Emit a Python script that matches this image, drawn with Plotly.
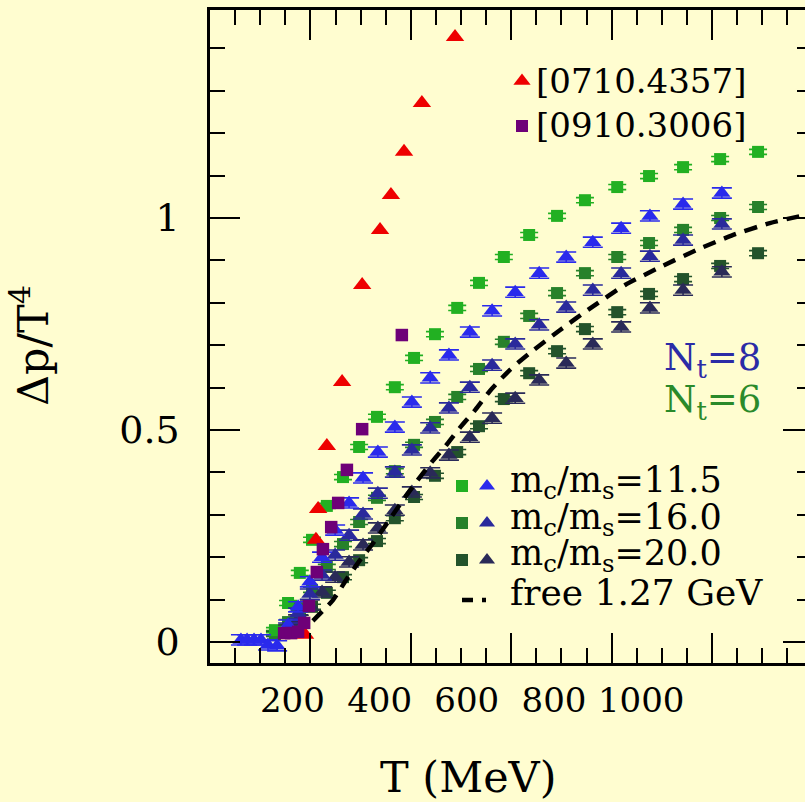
import plotly.graph_objects as go

BG = "#FFFDD0"
FONT = "DejaVu Serif"

# ---------------- data ----------------
# N_t = 6 (squares), three charm/strange mass ratios
T_nt6 = [160, 190, 217, 245, 279, 316, 353, 394, 435, 479, 527, 578, 628, 685,
         743, 807, 871, 945, 1018, 1096, 1181, 1268]
dp_nt6_115 = [0.028, 0.092, 0.163, 0.241, 0.321, 0.389, 0.460, 0.531, 0.601, 0.670,
              0.726, 0.788, 0.847, 0.908, 0.960, 1.005, 1.042, 1.073, 1.099, 1.120,
              1.139, 1.156]
dp_nt6_160 = [0.021, 0.047, 0.080, 0.123, 0.177, 0.231, 0.283, 0.340, 0.403, 0.465,
              0.519, 0.578, 0.644, 0.708, 0.769, 0.823, 0.870, 0.908, 0.941, 0.972,
              1.000, 1.026]
dp_nt6_200 = [0.019, 0.035, 0.057, 0.083, 0.116, 0.153, 0.193, 0.238, 0.292, 0.342,
              0.392, 0.448, 0.509, 0.573, 0.634, 0.686, 0.738, 0.778, 0.821, 0.856,
              0.887, 0.917]

# N_t = 8 (triangles)
T_nt8_low = [82, 96, 112, 128, 144, 165]
dp_nt8_low = [0.005, 0.005, 0.005, 0.005, -0.007, -0.009]
T_nt8 = [190, 213, 240, 268, 298, 330, 362, 396, 435, 474, 516, 559, 607, 658,
         711, 766, 828, 889, 954, 1020, 1096, 1185]
dp_nt8_115 = [0.040, 0.083, 0.142, 0.200, 0.264, 0.328, 0.387, 0.448, 0.507, 0.566,
              0.623, 0.677, 0.731, 0.781, 0.825, 0.870, 0.908, 0.943, 0.976, 1.005,
              1.033, 1.059]
dp_nt8_160 = [0.033, 0.068, 0.113, 0.158, 0.205, 0.252, 0.302, 0.351, 0.401, 0.453,
              0.505, 0.552, 0.601, 0.653, 0.703, 0.748, 0.790, 0.830, 0.870, 0.910,
              0.948, 0.986]
dp_nt8_200 = [0.028, 0.052, 0.087, 0.118, 0.153, 0.189, 0.229, 0.269, 0.311, 0.354,
              0.399, 0.441, 0.483, 0.528, 0.575, 0.618, 0.658, 0.703, 0.743, 0.788,
              0.830, 0.873]

# reference results
T_0710 = [229, 254, 259, 279, 314, 360, 401, 426, 456, 497, 573]
dp_0710 = [0.017, 0.241, 0.314, 0.462, 0.613, 0.842, 0.972, 1.054, 1.156, 1.271, 1.427]
T_0910 = [181, 197, 213, 227, 238, 256, 270, 289, 305, 325, 360, 451]
dp_0910 = [0.021, 0.021, 0.024, 0.045, 0.085, 0.165, 0.219, 0.271, 0.328, 0.406,
           0.502, 0.724]

# free charm gas, m = 1.27 GeV
T_free = [247, 293, 325, 355, 385, 419, 454, 486, 520, 555, 584, 619, 653, 699, 745,
          814, 887, 963, 1043, 1128, 1211, 1295, 1376]
dp_free = [0.050, 0.099, 0.149, 0.193, 0.233, 0.283, 0.335, 0.380, 0.425, 0.467,
           0.505, 0.547, 0.592, 0.642, 0.682, 0.736, 0.790, 0.842, 0.884, 0.925,
           0.960, 0.988, 1.007]

x_ticks = [200, 400, 600, 800, 1000]
x_tick_labels = ["200", "400", "600", "800", "1000"]
y_ticks = [0, 0.5, 1]
y_tick_labels = ["0", "0.5", "1"]

mass_labels = ["m<sub>c</sub>/m<sub>s</sub>=11.5",
               "m<sub>c</sub>/m<sub>s</sub>=16.0",
               "m<sub>c</sub>/m<sub>s</sub>=20.0"]

# ---------------- styles ----------------
GREENS = ["#22B022", "#27812A", "#23532B"]
BLUES = ["#2A2AEC", "#2A2A9C", "#2A2A58"]
RED = "#EE0000"
PURPLE = "#6E0078"

fig = go.Figure()

def squares(x, y, c):
    fig.add_trace(go.Scatter(
        x=x, y=y, mode="markers",
        marker=dict(symbol="square", size=12, color=c, line=dict(width=0)),
        error_y=dict(type="constant", value=0.006, width=9, thickness=1.6, color=c),
        showlegend=False, hoverinfo="x+y"))

def triangles(x, y, c):
    fig.add_trace(go.Scatter(
        x=x, y=y, mode="markers",
        marker=dict(symbol="triangle-up", size=15, color=c, line=dict(width=0)),
        error_y=dict(type="constant", value=0.012, width=10, thickness=1.6, color=c),
        showlegend=False, hoverinfo="x+y"))

squares(T_nt6, dp_nt6_200, GREENS[2])
squares(T_nt6, dp_nt6_160, GREENS[1])
squares(T_nt6, dp_nt6_115, GREENS[0])
triangles(T_nt8, dp_nt8_200, BLUES[2])
triangles(T_nt8, dp_nt8_160, BLUES[1])
triangles(T_nt8_low + T_nt8, dp_nt8_low + dp_nt8_115, BLUES[0])

fig.add_trace(go.Scatter(
    x=T_free, y=dp_free, mode="lines",
    line=dict(color="black", width=4.5, dash="13px,9px", shape="spline", smoothing=0.6),
    showlegend=False, hoverinfo="skip"))

fig.add_trace(go.Scatter(
    x=T_0710, y=dp_0710, mode="markers",
    marker=dict(symbol="triangle-up", size=16, color=RED),
    showlegend=False))
fig.add_trace(go.Scatter(
    x=T_0910, y=dp_0910, mode="markers",
    marker=dict(symbol="square", size=12.5, color=PURPLE),
    showlegend=False))

# empty traces so that the tick-only frame axes get drawn
fig.add_trace(go.Scatter(x=[], y=[], xaxis="x2", yaxis="y", showlegend=False))
fig.add_trace(go.Scatter(x=[], y=[], xaxis="x", yaxis="y2", showlegend=False))

# ---------------- legend keys (on a pixel-like overlay frame) ----------------
def key(x, y, sym, c, s):
    fig.add_trace(go.Scatter(
        x=[x], y=[y], mode="markers", xaxis="x3", yaxis="y3",
        marker=dict(symbol=sym, size=s, color=c), showlegend=False, hoverinfo="skip"))

key(522, 81, "triangle-up", RED, 15)
key(522, 126, "square", PURPLE, 12)
for i, yy in enumerate([486, 523, 560]):
    key(462, yy, "square", GREENS[i], 12)
    key(487, yy, "triangle-up", BLUES[i], 14)
fig.add_trace(go.Scatter(
    x=[462, 486], y=[600, 600], mode="lines", xaxis="x3", yaxis="y3",
    line=dict(color="black", width=4.5, dash="11px,9px"),
    showlegend=False, hoverinfo="skip"))

# ---------------- annotations ----------------
L, R, TOP, BOT = 210, 805, 10, 663
def px(xp):
    return (xp - L) / (R - L)
def py(yp):
    return (BOT - yp) / (BOT - TOP)

ann = []
def text(x, y, s, size, color="black", xanchor="left", angle=0):
    ann.append(dict(x=px(x), y=py(y), xref="paper", yref="paper", text=s,
                    showarrow=False, xanchor=xanchor, yanchor="middle",
                    textangle=angle, font=dict(family=FONT, size=size, color=color)))

text(534, 81, "[0710.4357]", 34)
text(534, 125, "[0910.3006]", 34)
text(662, 360, "N<sub>t</sub>=8", 37, "#2B2BA6")
text(662, 402, "N<sub>t</sub>=6", 37, "#2A8A2A")
for i, yy in enumerate([482, 519, 555]):
    text(508, yy, mass_labels[i], 35)
text(508, 592, "free 1.27 GeV", 36)
text(468, 777, "T (MeV)", 43, xanchor="center")
text(30, 346, "Δp/T<sup>4</sup>", 43, xanchor="center", angle=-90)

# ---------------- axes ----------------
T_LO = 600 + (L - 466.8) / 0.436
T_HI = 600 + (R - 466.8) / 0.436
Y_LO, Y_HI = -0.0495, 1.4906
U_HI = (R - L) / 25.1

fig.update_layout(
    width=805, height=802,
    margin=dict(l=L, r=805 - R, t=TOP, b=802 - BOT, pad=0),
    paper_bgcolor=BG, plot_bgcolor=BG,
    font=dict(family=FONT, color="black"),
    showlegend=False,
    annotations=ann,
    xaxis=dict(range=[T_LO, T_HI], tickvals=x_ticks, ticktext=x_tick_labels,
               ticks="", showline=False, showgrid=False, zeroline=False,
               tickfont=dict(family=FONT, size=34), ticklabelstandoff=14),
    xaxis2=dict(overlaying="x", anchor="y", range=[0, U_HI], side="bottom",
                showticklabels=False, showgrid=False, zeroline=False,
                showline=True, linecolor="black", linewidth=2.5, mirror="ticks",
                ticks="inside", tick0=0, dtick=4, ticklen=30, tickwidth=2,
                tickcolor="black",
                minor=dict(ticks="inside", dtick=1, ticklen=15, tickwidth=2,
                           tickcolor="black", showgrid=False)),
    yaxis=dict(range=[Y_LO, Y_HI], tickvals=y_ticks, ticktext=y_tick_labels,
               ticks="inside", ticklen=30, tickwidth=2, tickcolor="black",
               showline=True, linecolor="black", linewidth=2.5, mirror=False,
               showgrid=False, zeroline=False,
               tickfont=dict(family=FONT, size=38), ticklabelstandoff=20,
               minor=dict(ticks="inside", dtick=0.1, tick0=0, ticklen=15,
                          tickwidth=2, tickcolor="black", showgrid=False)),
    yaxis2=dict(overlaying="y", anchor="x", side="right", range=[Y_LO, Y_HI],
                showticklabels=False, showline=False, showgrid=False, zeroline=False,
                ticks="inside", tickvals=y_ticks, ticklen=22, tickwidth=2,
                tickcolor="black",
                minor=dict(ticks="inside", dtick=0.1, tick0=0, ticklen=8,
                           tickwidth=2, tickcolor="black", showgrid=False)),
    xaxis3=dict(overlaying="x", anchor="y3", range=[L, R], visible=False),
    yaxis3=dict(overlaying="y", anchor="x3", range=[BOT, TOP], visible=False),
)

fig.write_html(
    "out.html",
    config={"displayModeBar": False},
    post_script="document.body.style.margin='0px';"
                "document.body.style.background='" + BG + "';",
)
